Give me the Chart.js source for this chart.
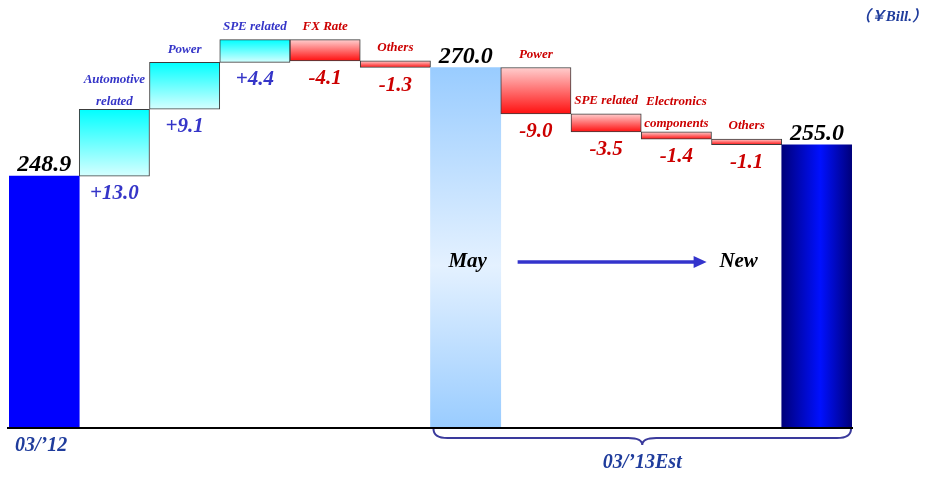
<!DOCTYPE html>
<html>
<head>
<meta charset="utf-8">
<script src="https://cdn.jsdelivr.net/npm/chart.js@4/dist/chart.umd.min.js"></script>
<style>
  html, body { margin: 0; padding: 0; background: #ffffff; }
  canvas { display: block; }
</style>
</head>
<body>
<canvas id="c" width="932" height="477"></canvas>
<script>
// Operating income bridge, ¥ billions
const stepNames = ['03/’12', ['Automotive', 'related'], 'Power', 'SPE related', 'FX Rate', 'Others',
                   'May', 'Power', 'SPE related', ['Electronics', 'components'], 'Others', 'New'];
const stepValues = [248.9, 13.0, 9.1, 4.4, -4.1, -1.3, 270.0, -9.0, -3.5, -1.4, -1.1, 255.0];
const stepKinds = ['start', 'change', 'change', 'change', 'change', 'change',
                   'mid', 'change', 'change', 'change', 'change', 'end'];
const periodLabels = ['03/’12', '03/’13Est'];
const unitLabel = '（￥Bill.）';
const axisMin = 200;
const axisMax = 280;

// Running level turns each step into a floating [from, to] bar
let level = 0;
const floats = stepValues.map((v, i) => {
  if (stepKinds[i] === 'change') {
    const from = level;
    level = Math.round((level + v) * 10) / 10;
    return [from, level];
  }
  level = v;
  return [axisMin, v];
});

const serif = '"Liberation Serif", "Times New Roman", "Noto Sans CJK JP", serif';
const totalFont = 'italic bold 24px ' + serif;
const valueFont = 'italic bold 21px ' + serif;
const nameFont = 'italic bold 13px ' + serif;
const noteFont = 'italic bold 21px ' + serif;
const periodFont = 'italic bold 20px ' + serif;
const unitFont = 'italic bold 15px ' + serif;

const UP_TEXT = '#3535c8';
const DOWN_TEXT = '#cc0000';
const NAVY_TEXT = '#1f3c9c';

function barFill(ctx) {
  const chart = ctx.chart;
  const i = ctx.dataIndex;
  if (i === undefined || !chart.chartArea) return '#0000ff';
  const xs = chart.scales.x, ys = chart.scales.y;
  const [a, b] = floats[i];
  const top = ys.getPixelForValue(Math.max(a, b));
  const bot = ys.getPixelForValue(Math.min(a, b));
  const cx = xs.getPixelForValue(i);
  const half = (xs.getPixelForValue(1) - xs.getPixelForValue(0)) / 2;
  const c = chart.ctx;
  const kind = stepKinds[i];
  if (kind === 'start') return '#0000ff';
  if (kind === 'change') {
    const g = c.createLinearGradient(0, top, 0, bot);
    if (stepValues[i] > 0) {
      g.addColorStop(0, '#00ffff');
      g.addColorStop(1, '#d6ffff');
    } else {
      g.addColorStop(0, '#ffcece');
      g.addColorStop(1, '#ff1010');
    }
    return g;
  }
  if (kind === 'mid') {
    const g = c.createLinearGradient(0, top, 0, bot);
    g.addColorStop(0, '#99ccff');
    g.addColorStop(0.55, '#e4f1ff');
    g.addColorStop(1, '#99ccff');
    return g;
  }
  const g = c.createLinearGradient(cx - half, 0, cx + half, 0);
  g.addColorStop(0, '#00007a');
  g.addColorStop(0.55, '#0010ff');
  g.addColorStop(1, '#00007a');
  return g;
}

const overlay = {
  id: 'bridgeOverlay',
  afterDatasetsDraw(chart) {
    const ctx = chart.ctx;
    const area = chart.chartArea;
    const bars = chart.getDatasetMeta(0).data;
    const step = bars[1].x - bars[0].x;
    ctx.save();

    // baseline
    ctx.strokeStyle = '#000000';
    ctx.lineWidth = 2;
    ctx.beginPath();
    ctx.moveTo(area.left - 2, area.bottom);
    ctx.lineTo(area.right + 1, area.bottom);
    ctx.stroke();

    // values and step names
    ctx.textAlign = 'center';
    bars.forEach((bar, i) => {
      const top = Math.min(bar.y, bar.base);
      const bot = Math.max(bar.y, bar.base);
      const v = stepValues[i];
      if (stepKinds[i] === 'change') {
        const col = v > 0 ? UP_TEXT : DOWN_TEXT;
        ctx.fillStyle = col;
        ctx.font = valueFont;
        ctx.textBaseline = 'alphabetic';
        ctx.fillText((v > 0 ? '+' : '') + v.toFixed(1), bar.x, bot + 23);
        ctx.font = nameFont;
        ctx.textBaseline = 'middle';
        const lines = [].concat(stepNames[i]);
        const last = top - (lines.length > 1 ? 8 : 13);
        lines.forEach((ln, k) => {
          ctx.fillText(ln, bar.x, last - (lines.length - 1 - k) * 22);
        });
      } else {
        ctx.fillStyle = '#000000';
        ctx.font = totalFont;
        ctx.textBaseline = 'alphabetic';
        ctx.fillText(v.toFixed(1), bar.x, top - 5);
      }
    });

    // May -> New note
    const noteY = area.bottom - 166;
    const arrowStart = bars[6].x + 52;
    const arrowEnd = bars[10].x - 40;
    ctx.fillStyle = '#000000';
    ctx.font = noteFont;
    ctx.textBaseline = 'middle';
    ctx.fillText(stepNames[6], bars[6].x + 2, noteY);
    ctx.fillText(stepNames[11], arrowEnd + 32, noteY);
    ctx.strokeStyle = '#3333cc';
    ctx.fillStyle = '#3333cc';
    ctx.lineWidth = 3.5;
    ctx.beginPath();
    ctx.moveTo(arrowStart, noteY);
    ctx.lineTo(arrowEnd - 10, noteY);
    ctx.stroke();
    ctx.beginPath();
    ctx.moveTo(arrowEnd, noteY);
    ctx.lineTo(arrowEnd - 13, noteY - 6);
    ctx.lineTo(arrowEnd - 13, noteY + 6);
    ctx.closePath();
    ctx.fill();

    // brace under the forecast steps
    const x1 = bars[6].x - step / 2 + 3;
    const x2 = bars[11].x + step / 2 - 1;
    const mid = (x1 + x2) / 2;
    const y0 = area.bottom + 1, y1 = area.bottom + 10, y2 = area.bottom + 17;
    const r = 14;
    ctx.strokeStyle = '#3a3a9c';
    ctx.lineWidth = 2;
    ctx.beginPath();
    ctx.moveTo(x1, y0);
    ctx.quadraticCurveTo(x1, y1, x1 + r, y1);
    ctx.lineTo(mid - r, y1);
    ctx.quadraticCurveTo(mid, y1, mid, y2);
    ctx.quadraticCurveTo(mid, y1, mid + r, y1);
    ctx.lineTo(x2 - r, y1);
    ctx.quadraticCurveTo(x2, y1, x2, y0);
    ctx.stroke();

    // period labels
    ctx.fillStyle = NAVY_TEXT;
    ctx.font = periodFont;
    ctx.textBaseline = 'middle';
    ctx.fillText(periodLabels[0], bars[0].x - 3, area.bottom + 18);
    ctx.fillText(periodLabels[1], mid, area.bottom + 35);

    // unit
    ctx.font = unitFont;
    ctx.textAlign = 'right';
    ctx.fillText(unitLabel, 927, 17);

    ctx.restore();
  }
};

new Chart(document.getElementById('c'), {
  type: 'bar',
  data: {
    labels: stepNames.map(n => [].concat(n).join(' ')),
    datasets: [{
      data: floats,
      backgroundColor: barFill,
      borderColor: ctx => stepKinds[ctx.dataIndex] === 'change' ? '#3c3c3c' : 'rgba(0,0,0,0)',
      borderWidth: ctx => stepKinds[ctx.dataIndex] === 'change' ? 1 : 0,
      borderSkipped: false,
      barPercentage: 1,
      categoryPercentage: 1
    }]
  },
  options: {
    responsive: false,
    animation: false,
    layout: { padding: { left: 9, right: 80, top: 16, bottom: 49 } },
    plugins: { legend: { display: false }, tooltip: { enabled: false } },
    scales: {
      x: { display: false, offset: true },
      y: { display: false, min: axisMin, max: axisMax }
    }
  },
  plugins: [overlay]
});
</script>
</body>
</html>
